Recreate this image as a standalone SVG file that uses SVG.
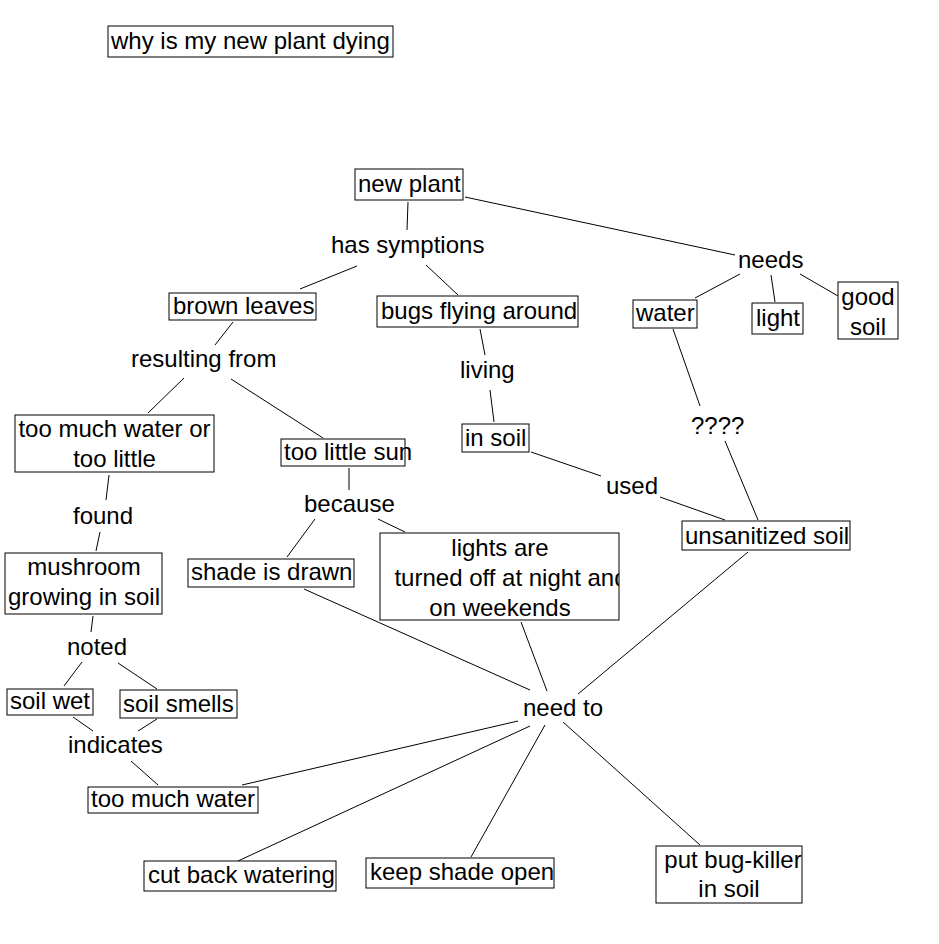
<svg xmlns="http://www.w3.org/2000/svg" width="939" height="944" viewBox="0 0 939 944">
<style>
  .box { fill: #fff; stroke: #000; stroke-width: 1; }
  text { font-family: "Liberation Sans", Arial, sans-serif; font-size: 24px; fill: #000; }
  .c { text-anchor: middle; }
  #connectors line { stroke: #000; stroke-width: 1; }
</style>
<defs>
  <clipPath id="clipTitle"><rect x="108" y="26" width="285" height="31"/></clipPath>
  <clipPath id="clipBugs"><rect x="377" y="296" width="201" height="31"/></clipPath>
  <clipPath id="clipLights"><rect x="380" y="533" width="239" height="87"/></clipPath>
  <clipPath id="clipKiller"><rect x="656" y="846" width="146" height="57"/></clipPath>
</defs>
<rect width="939" height="944" fill="#fff"/>
<g id="connectors">
  <line x1="408" y1="202" x2="407" y2="230"/>
  <line x1="465" y1="197" x2="735" y2="255"/>
  <line x1="357" y1="266" x2="300" y2="289"/>
  <line x1="426" y1="265" x2="458" y2="295"/>
  <line x1="740" y1="274" x2="695" y2="298"/>
  <line x1="771" y1="275" x2="775" y2="302"/>
  <line x1="800" y1="274" x2="838" y2="296"/>
  <line x1="233" y1="322" x2="215" y2="345"/>
  <line x1="184" y1="378" x2="148" y2="413"/>
  <line x1="231" y1="379" x2="323" y2="438"/>
  <line x1="480" y1="329" x2="485" y2="355"/>
  <line x1="490" y1="390" x2="494" y2="422"/>
  <line x1="531" y1="452" x2="601" y2="476"/>
  <line x1="660" y1="497" x2="725" y2="520"/>
  <line x1="673" y1="329" x2="700" y2="406"/>
  <line x1="725" y1="441" x2="758" y2="520"/>
  <line x1="109" y1="475" x2="106" y2="500"/>
  <line x1="100" y1="532" x2="96" y2="551"/>
  <line x1="349" y1="468" x2="349" y2="490"/>
  <line x1="315" y1="519" x2="287" y2="557"/>
  <line x1="378" y1="519" x2="405" y2="532"/>
  <line x1="93" y1="616" x2="91" y2="632"/>
  <line x1="82" y1="662" x2="64" y2="686"/>
  <line x1="118" y1="663" x2="157" y2="689"/>
  <line x1="73" y1="717" x2="93" y2="731"/>
  <line x1="157" y1="719" x2="138" y2="731"/>
  <line x1="131" y1="761" x2="158" y2="785"/>
  <line x1="304" y1="589" x2="530" y2="690"/>
  <line x1="521" y1="622" x2="547" y2="691"/>
  <line x1="748" y1="552" x2="578" y2="694"/>
  <line x1="518" y1="721" x2="242" y2="785"/>
  <line x1="530" y1="726" x2="238" y2="861"/>
  <line x1="545" y1="725" x2="471" y2="857"/>
  <line x1="563" y1="722" x2="700" y2="845"/>
</g>
<g id="title"><rect class="box" x="108" y="26" width="285" height="31"/><text x="111" y="49" clip-path="url(#clipTitle)">why is my new plant dying</text></g>
<g id="new-plant"><rect class="box" x="355" y="169" width="108" height="31"/><text x="358" y="192">new plant</text></g>
<g id="has-symptions"><text x="331" y="253">has symptions</text></g>
<g id="needs"><text x="738" y="268">needs</text></g>
<g id="brown-leaves"><rect class="box" x="169" y="293" width="147" height="27"/><text x="173" y="314">brown leaves</text></g>
<g id="bugs-flying"><rect class="box" x="377" y="296" width="201" height="31"/><text x="381" y="319" clip-path="url(#clipBugs)">bugs flying around</text></g>
<g id="water"><rect class="box" x="633" y="300" width="64" height="28"/><text x="636" y="321">water</text></g>
<g id="light"><rect class="box" x="752" y="303" width="51" height="31"/><text x="756" y="326">light</text></g>
<g id="good-soil"><rect class="box" x="838" y="282" width="60" height="57"/><text class="c" x="868" y="305">good</text><text class="c" x="868" y="335">soil</text></g>
<g id="resulting-from"><text x="131" y="367">resulting from</text></g>
<g id="living"><text x="460" y="378">living</text></g>
<g id="too-much-or-little"><rect class="box" x="15" y="415" width="199" height="57"/><text class="c" x="114.5" y="437">too much water or</text><text class="c" x="114.5" y="467">too little</text></g>
<g id="too-little-sun"><rect class="box" x="281" y="439" width="124" height="27"/><text x="284" y="460">too little sun</text></g>
<g id="in-soil"><rect class="box" x="462" y="424" width="67" height="28"/><text x="465" y="446">in soil</text></g>
<g id="qqqq"><text x="691" y="434">????</text></g>
<g id="used"><text x="606" y="494">used</text></g>
<g id="found"><text x="73" y="524">found</text></g>
<g id="because"><text x="304" y="512">because</text></g>
<g id="unsanitized-soil"><rect class="box" x="682" y="521" width="168" height="29"/><text x="685" y="544">unsanitized soil</text></g>
<g id="mushroom"><rect class="box" x="5" y="553" width="157" height="61"/><text class="c" x="84" y="575">mushroom</text><text class="c" x="84" y="605">growing in soil</text></g>
<g id="shade-drawn"><rect class="box" x="188" y="559" width="166" height="28"/><text x="191" y="580">shade is drawn</text></g>
<g id="lights-off"><rect class="box" x="380" y="533" width="239" height="87"/><g clip-path="url(#clipLights)"><text class="c" x="500" y="556">lights are</text><text class="c" x="511" y="586">turned off at night and</text><text class="c" x="500" y="616">on weekends</text></g></g>
<g id="noted"><text x="67" y="655">noted</text></g>
<g id="soil-wet"><rect class="box" x="7" y="689" width="86" height="26"/><text x="10" y="709">soil wet</text></g>
<g id="soil-smells"><rect class="box" x="120" y="690" width="117" height="28"/><text x="123" y="712">soil smells</text></g>
<g id="indicates"><text x="68" y="753">indicates</text></g>
<g id="need-to"><text x="523" y="716">need to</text></g>
<g id="too-much-water"><rect class="box" x="88" y="787" width="170" height="26"/><text x="91" y="807">too much water</text></g>
<g id="cut-back"><rect class="box" x="144" y="861" width="192" height="30"/><text x="148" y="883">cut back watering</text></g>
<g id="keep-shade"><rect class="box" x="366" y="858" width="188" height="30"/><text x="370" y="880">keep shade open</text></g>
<g id="bug-killer"><rect class="box" x="656" y="846" width="146" height="57"/><g clip-path="url(#clipKiller)"><text class="c" x="733" y="868">put bug-killer</text><text class="c" x="729" y="897">in soil</text></g></g>
</svg>
